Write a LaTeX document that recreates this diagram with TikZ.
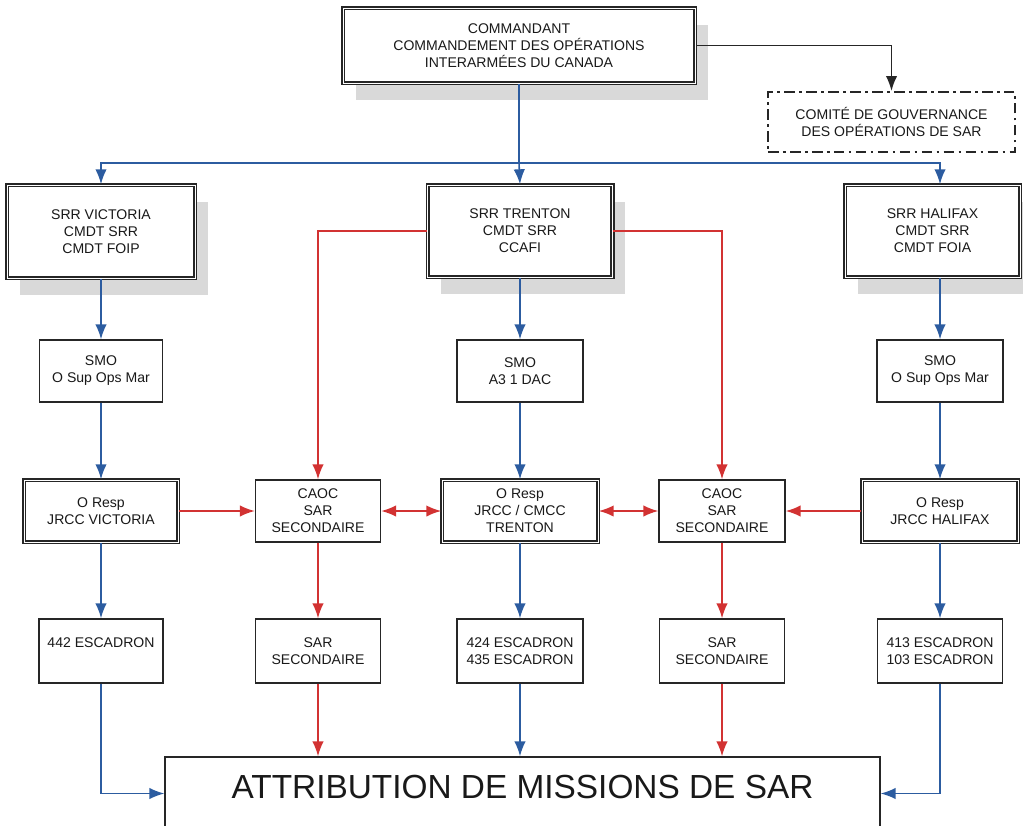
\documentclass[tikz,border=0pt]{standalone}
\usepackage{fontspec}
\setmainfont{Liberation Sans}
\usetikzlibrary{arrows.meta,shadows}
\definecolor{orgblue}{RGB}{44,92,160}
\definecolor{orgred}{RGB}{210,50,50}
\tikzset{font=\fontsize{8}{9.7}\selectfont}
\tikzset{box/.style={draw=black!85,fill=white,line width=0.8pt,align=center,inner sep=1pt,text=black!90}}
\tikzset{dblbox/.style={box,line width=0.9pt,double,double distance=0.5pt}}
\tikzset{shbox/.style={dblbox,drop shadow={shadow xshift=7.4pt,shadow yshift=-9.6pt,fill=black!15,opacity=1}}}
\tikzset{bl/.style={draw=orgblue,line width=0.9pt},rd/.style={draw=orgred,line width=0.9pt}}
\tikzset{>={Latex[length=8.5pt,width=6.5pt]}}

\begin{document}
\begin{tikzpicture}[x=0.02cm,y=-0.02cm]
\useasboundingbox (0,0) rectangle (1023,825);
% top level
\node[shbox,minimum width=7.04cm,minimum height=1.5cm] (cmd) at (519,45.5)
  {COMMANDANT\\COMMANDEMENT DES OPÉRATIONS\\INTERARMÉES DU CANADA};
\node[box,line width=1.2pt,dash pattern=on 6pt off 2.5pt on 1.5pt off 2.5pt,
  minimum width=4.94cm,minimum height=1.2cm] (gov) at (891.5,122)
  {COMITÉ DE GOUVERNANCE\\DES OPÉRATIONS DE SAR};
\coordinate (bus) at (519,163);
% SRR boxes
\node[shbox,minimum width=3.76cm,minimum height=1.86cm] (srrV) at (101,231.5) {SRR VICTORIA\\CMDT SRR\\CMDT FOIP};
\node[shbox,minimum width=3.7cm,minimum height=1.84cm] (srrT) at (520,231) {SRR TRENTON\\CMDT SRR\\CCAFI};
\node[shbox,minimum width=3.5cm,minimum height=1.84cm] (srrH) at (932.5,231) {SRR HALIFAX\\CMDT SRR\\CMDT FOIA};
% SMO
\node[box,minimum width=2.46cm,minimum height=1.24cm] (smoV) at (101,371) {SMO\\O Sup Ops Mar};
\node[box,minimum width=2.52cm,minimum height=1.24cm] (smoT) at (520,371) {SMO\\A3 1 DAC};
\node[box,minimum width=2.52cm,minimum height=1.24cm] (smoH) at (940,371) {SMO\\O Sup Ops Mar};
% JRCC and CAOC
\node[dblbox,minimum width=3.08cm,minimum height=1.24cm] (jrccV) at (101,511) {O Resp\\JRCC VICTORIA};
\node[box,minimum width=2.5cm,minimum height=1.24cm] (caocL) at (318,511) {CAOC\\SAR\\SECONDAIRE};
\node[dblbox,minimum width=3.12cm,minimum height=1.24cm] (jrccT) at (520,511) {O Resp\\JRCC / CMCC\\TRENTON};
\node[box,minimum width=2.52cm,minimum height=1.24cm] (caocR) at (722,511) {CAOC\\SAR\\SECONDAIRE};
\node[dblbox,minimum width=3.12cm,minimum height=1.24cm] (jrccH) at (940,511) {O Resp\\JRCC HALIFAX};
% squadrons
\node[box,minimum width=2.48cm,minimum height=1.28cm] (escV) at (101,651) {442 ESCADRON\\\mbox{}};
\node[box,minimum width=2.5cm,minimum height=1.28cm] (sarL) at (318,651) {SAR\\SECONDAIRE};
\node[box,minimum width=2.52cm,minimum height=1.28cm] (escT) at (520,651) {424 ESCADRON\\435 ESCADRON};
\node[box,minimum width=2.5cm,minimum height=1.28cm] (sarR) at (722,651) {SAR\\SECONDAIRE};
\node[box,minimum width=2.5cm,minimum height=1.28cm] (escH) at (940,651) {413 ESCADRON\\103 ESCADRON};
\node[box,minimum width=14.3cm,minimum height=1.46cm,text depth=7.4pt,
  font=\fontsize{19}{22}\selectfont] (mission) at (522.5,793.5) {ATTRIBUTION DE MISSIONS DE SAR};
% connectors
\draw[draw=black!85,line width=0.9pt,->] (cmd.east) -| (gov.north);
\draw[bl] (cmd.south) -- (bus);
\draw[bl,->] (bus) -| (srrV.north);
\draw[bl,->] (bus) -| (smoH |- srrH.north);
\draw[bl,->] (bus) -- (srrT.north);
\foreach \c in {V,T,H}{
  \draw[bl,->] (smo\c |- srr\c.south) -- (smo\c);
  \draw[bl,->] (smo\c) -- (jrcc\c);
  \draw[bl,->] (jrcc\c) -- (esc\c);
}
\draw[bl,->] (escV) |- (mission.west);
\draw[bl,->] (escH) |- (mission.east);
\draw[bl,->] (escT) -- (escT |- mission.north);
\draw[rd,->] (srrT) -| (caocL);
\draw[rd,->] (srrT) -| (caocR);
\draw[rd,->] (jrccV) -- (caocL);
\draw[rd,<->] (caocL) -- (jrccT);
\draw[rd,<->] (jrccT) -- (caocR);
\draw[rd,->] (jrccH) -- (caocR);
\draw[rd,->] (caocL) -- (sarL);
\draw[rd,->] (caocR) -- (sarR);
\draw[rd,->] (sarL) -- (sarL |- mission.north);
\draw[rd,->] (sarR) -- (sarR |- mission.north);
\end{tikzpicture}
\end{document}
